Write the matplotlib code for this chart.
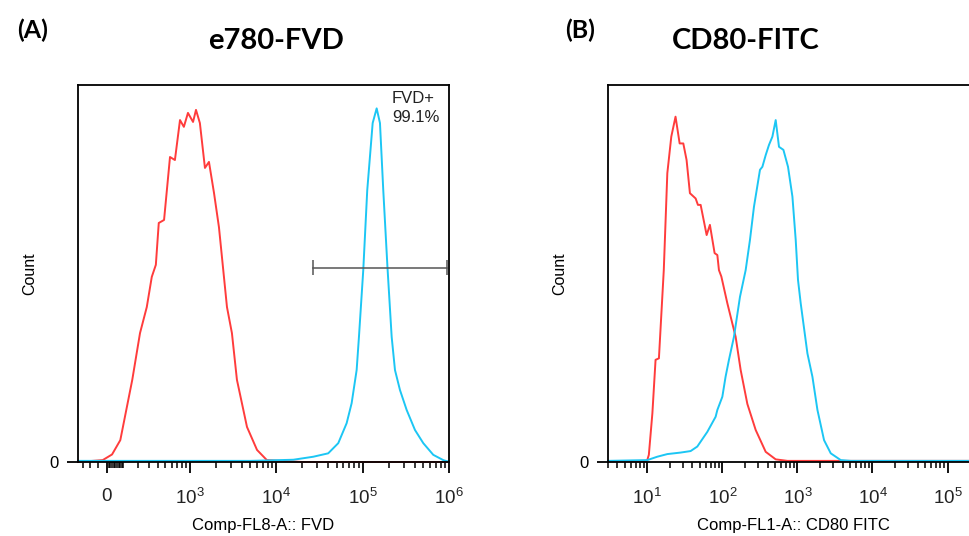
import numpy as np
import matplotlib.pyplot as plt
from matplotlib.ticker import FixedLocator, NullFormatter, LogLocator

plt.rcParams['font.family'] = ['Liberation Sans', 'DejaVu Sans']
plt.rcParams['mathtext.fontset'] = 'custom'
plt.rcParams['mathtext.rm'] = 'Liberation Sans'
plt.rcParams['mathtext.it'] = 'Liberation Sans:italic'

RED = '#ff3c3c'
CYAN = '#1cc6f4'

# (A) e780-FVD, biexponential axis
fvd_ctrl_x = [-187, -25, 30, 80, 160, 220, 280, 330, 375, 410, 480, 570, 655, 755, 840,
              940, 1080, 1170, 1300, 1490, 1660, 1900, 2170, 2690, 3070, 3510, 4590,
              6000, 7800, 20000, 1000000]
fvd_ctrl_y = [0, 0.5, 2.0, 5.8, 21.8, 34.2, 41.1, 49.1, 52.3, 63.4, 64.2, 80.9, 80.1, 90.7, 88.9,
              92.6, 90.2, 93.4, 89.9, 78.0, 79.6, 71.4, 62.3, 41.1, 34.2, 21.8, 9.3,
              3.2, 0.5, 0, 0]
fvd_stain_x = [-187, 5000, 11000, 15800, 26900, 40000, 52300, 65400, 74700, 85350, 90760,
               101800, 113200, 130800, 145500, 158900, 173500, 194000, 217000, 237000,
               270700, 323600, 403700, 503800, 657600, 858300, 947300, 1000000]
fvd_stain_y = [0.3, 0.3, 0.5, 0.6, 1.4, 2.3, 5.0, 10.3, 15.6, 24.4, 33.2,
               50.9, 72.1, 89.9, 93.8, 89.9, 72.1, 51.7, 33.2, 24.4,
               19.1, 13.8, 8.5, 5.0, 1.9, 0.5, 0.2, 0.2]
gate_x = [26600, 947000]
gate_y = 51.5
gate_label = 'FVD+\n99.1%'

# (B) CD80-FITC, log axis
cd80_ctrl_x = [3, 9.5, 10.0, 10.5, 11.7, 12.9, 14.3, 16.6, 18.5, 20.9, 23.8, 27.0, 30.2,
               33.4, 37.0, 44.1, 47.3, 51.4, 61.8, 68.3, 78.9, 85.8, 90.1, 97.0, 116.6,
               150.4, 175.4, 215.4, 278.0, 377.9, 513.7, 735.6, 262144]
cd80_ctrl_y = [0.2, 0.2, 0.5, 1.9, 12.9, 27.1, 27.5, 50.9, 76.6, 86.3, 91.6, 84.5, 84.5,
               80.1, 71.3, 69.9, 68.2, 68.2, 60.2, 62.9, 55.4, 54.9, 50.9, 49.2, 42.1,
               33.2, 24.4, 15.4, 8.5, 2.7, 0.7, 0.3, 0.3]
cd80_stain_x = [3, 10, 13.6, 18.5, 27.8, 37.8, 46.4, 51.4, 63.1, 81.4, 85.8, 100, 110.4,
                122.5, 142.8, 171.7, 204.5, 233.3, 263.8, 286.6, 317.2, 341.5, 377.9,
                418.1, 464.2, 513.7, 568.4, 650.7, 749.4, 857.8, 949.1, 1018, 1106,
                1359, 1585, 1848, 2263, 2780, 3779, 5137, 262144]
cd80_stain_y = [0.3, 0.5, 1.4, 2.1, 2.5, 2.9, 4.1, 5.4, 8.0, 12.0, 13.8, 17.3, 22.6,
                27.1, 33.2, 43.8, 50.9, 58.9, 67.7, 72.1, 77.5, 78.3, 81.4,
                84.1, 86.3, 90.7, 83.6, 82.8, 78.3, 70.4, 58.9, 48.3, 42.1,
                28.8, 22.6, 13.8, 5.8, 2.3, 0.5, 0.3, 0.3]

C = 220.0


def biex(x):
    return np.arcsinh(np.asarray(x, dtype=float) / C) / np.log(10)


def biex_inv(v):
    return C * np.sinh(np.asarray(v, dtype=float) * np.log(10))


fig = plt.figure(figsize=(9.69, 5.36), dpi=100)
axA = fig.add_axes([78 / 969, 74 / 536, 371 / 969, 377 / 536])
axB = fig.add_axes([608 / 969, 74 / 536, 371 / 969, 377 / 536])


def style(ax, xlabel):
    for s in ax.spines.values():
        s.set_linewidth(1.3)
    ax.set_ylim(0, 100)
    ax.set_yticks([0])
    ax.set_yticklabels(['0'], fontsize=12)
    ax.tick_params(axis='y', length=8, width=1.3, pad=6)
    ax.tick_params(axis='x', which='major', length=8, width=1.3, pad=11,
                   labelsize=13.5, labelcolor='#222222')
    ax.tick_params(axis='x', which='minor', length=4, width=1.1)
    ax.set_xlabel(xlabel, fontsize=12, labelpad=7)
    ax.set_ylabel('Count', fontsize=11.5, labelpad=9)


# panel A
axA.set_xscale('function', functions=(biex, biex_inv))
axA.plot(fvd_ctrl_x, fvd_ctrl_y, color=RED, lw=1.4, clip_on=False)
axA.plot(fvd_stain_x, fvd_stain_y, color=CYAN, lw=1.4, clip_on=False)
axA.set_xlim(-187, 1000000)
axA.xaxis.set_major_locator(FixedLocator([0, 1e3, 1e4, 1e5, 1e6]))
axA.set_xticklabels(['0', r'$10^{3}$', r'$10^{4}$', r'$10^{5}$', r'$10^{6}$'])
minorA = [-150, -100, -50]
for d in [10, 100, 1000, 10000, 100000]:
    minorA += [k * d for k in range(2, 10)]
minorA += [10, 100]
axA.xaxis.set_minor_locator(FixedLocator(minorA))
axA.xaxis.set_minor_formatter(NullFormatter())
style(axA, 'Comp-FL8-A:: FVD')

axA.plot(gate_x, [gate_y, gate_y], color='#555555', lw=1.1)
axA.vlines(gate_x, gate_y - 2, gate_y + 2, color='#555555', lw=1.1)
axA.text(0.846, 0.985, gate_label, transform=axA.transAxes, ha='left', va='top',
         fontsize=12, color='#222222', linespacing=1.35)

# panel B
axB.set_xscale('log')
axB.plot(cd80_ctrl_x, cd80_ctrl_y, color=RED, lw=1.4, clip_on=False)
axB.plot(cd80_stain_x, cd80_stain_y, color=CYAN, lw=1.4, clip_on=False)
axB.set_xlim(3, 262144)
axB.xaxis.set_major_locator(FixedLocator([10, 100, 1e3, 1e4, 1e5]))
axB.set_xticklabels([r'$10^{1}$', r'$10^{2}$', r'$10^{3}$', r'$10^{4}$', r'$10^{5}$'])
axB.xaxis.set_minor_locator(LogLocator(base=10, subs=np.arange(2, 10)))
axB.xaxis.set_minor_formatter(NullFormatter())
style(axB, 'Comp-FL1-A:: CD80 FITC')

# panel titles
title_font = dict(family=['Lato', 'DejaVu Sans'], weight='bold', color='black')
fig.text(33 / 969, 1 - 30 / 536, '(A)', fontsize=18, ha='center', va='center', **title_font)
fig.text(276 / 969, 1 - 41 / 536, 'e780-FVD', fontsize=21, ha='center', va='center', **title_font)
fig.text(580 / 969, 1 - 30 / 536, '(B)', fontsize=18, ha='center', va='center', **title_font)
fig.text(746 / 969, 1 - 41 / 536, 'CD80-FITC', fontsize=21, ha='center', va='center', **title_font)

fig.savefig('out.png', dpi=100)
